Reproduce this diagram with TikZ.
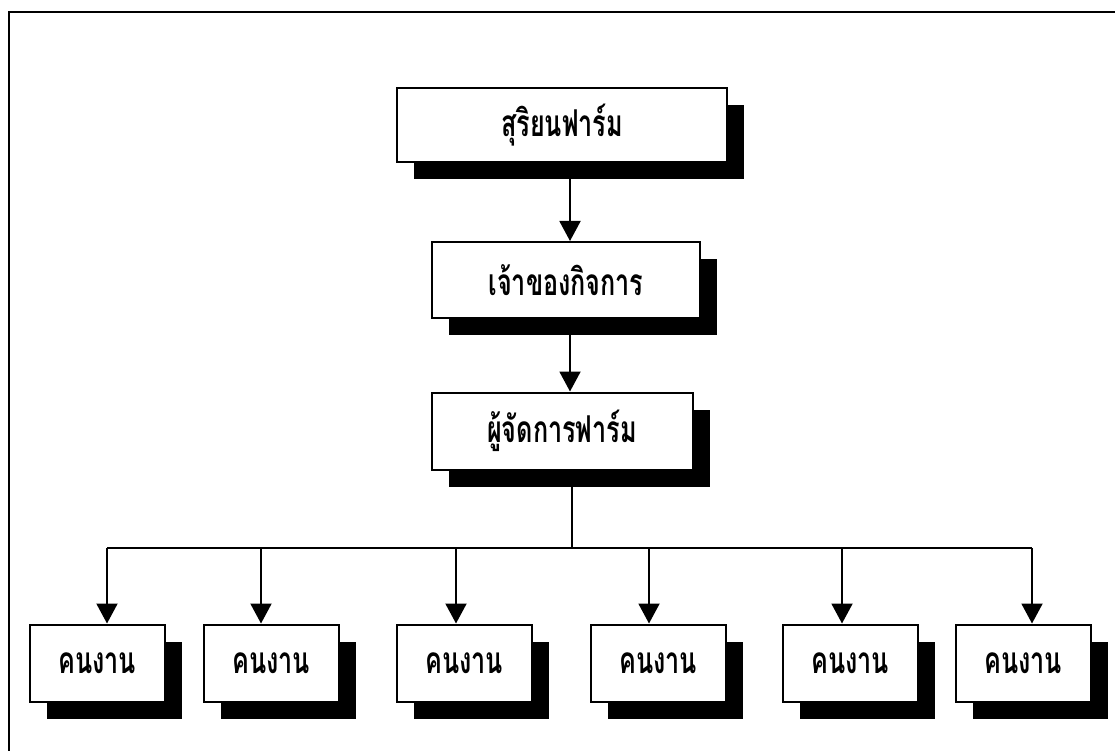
\documentclass[tikz,border=0pt]{standalone}
\usepackage{fontspec}
\newfontfamily\thaifont[Script=Thai, FakeStretch=0.68]{Loma}
\usetikzlibrary{arrows.meta,shadows}

\begin{document}
\begin{tikzpicture}[x=1pt, y=-1pt,
    box/.style={shape=rectangle, draw=black, line width=2pt, fill=white, inner sep=0pt,
        font=\thaifont\bfseries\fontsize{37}{40}\selectfont,
        drop shadow={shadow xshift=17pt, shadow yshift=-17pt, fill=black, opacity=1}},
    worker/.style={box, minimum width=135pt, minimum height=77pt},
    arr/.style={line width=2pt, -{Triangle[width=21pt,length=20pt]}}]
    \clip (0,0) rectangle (1115,751);
    \draw [line width=2.5pt] (9,770) -- (9,12) -- (1130,12);

    \node[box, minimum width=330pt, minimum height=74pt] (0) at (562, 125) {สุริยนฟาร์ม};
    \node[box, minimum width=268pt, minimum height=76pt] (1) at (566, 280) {เจ้าของกิจการ};
    \node[box, minimum width=261pt, minimum height=77pt] (2) at (562, 431) {ผู้จัดการฟาร์ม};

    \node[worker] (3) at (97, 663) {คนงาน};
    \node[worker] (4) at (271, 663) {คนงาน};
    \node[worker] (5) at (464, 663) {คนงาน};
    \node[worker] (6) at (658, 663) {คนงาน};
    \node[worker] (7) at (850, 663) {คนงาน};
    \node[worker] (8) at (1023, 663) {คนงาน};

    \coordinate (bus) at (572, 548);

    \draw [arr] (570,0 |- 0.south) -- (570,0 |- 1.north);
    \draw [arr] (570,0 |- 1.south) -- (570,0 |- 2.north);
    \draw [line width=2pt] (bus |- 2.south) -- (bus);
    \draw [line width=2pt] (107,0 |- bus) -- (1032,0 |- bus);
    \foreach \n/\ax in {3/107, 4/261, 5/456, 6/649, 7/842, 8/1032}
        \draw [arr] (\ax,0 |- bus) -- (\ax,0 |- \n.north);
\end{tikzpicture}
\end{document}
